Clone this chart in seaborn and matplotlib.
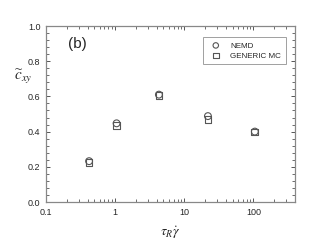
import pandas as pd
import matplotlib
matplotlib.use("Agg")
import matplotlib.pyplot as plt
import seaborn as sns
from matplotlib.ticker import AutoMinorLocator, LogLocator, FixedLocator, NullFormatter, FuncFormatter

# values
rate = [0.42, 1.05, 4.3, 22, 105]
nemd = [0.232, 0.447, 0.610, 0.488, 0.400]
generic_mc = [0.224, 0.436, 0.604, 0.470, 0.398]

sns.set_style("white")
plt.rcParams["font.family"] = ["Liberation Sans", "DejaVu Sans"]
plt.rcParams["mathtext.fontset"] = "stix"

df = pd.DataFrame({
    "rate": rate * 2,
    "c": nemd + generic_mc,
    "method": ["NEMD"] * len(rate) + ["GENERIC MC"] * len(rate),
})

fig = plt.figure(figsize=(3.10, 2.42), dpi=100)
ax = fig.add_axes([46 / 310, 40 / 242, 249 / 310, 176 / 242])

markers = {"NEMD": "o", "GENERIC MC": "s"}
for name, m in markers.items():
    sub = df[df["method"] == name]
    sns.scatterplot(data=sub, x="rate", y="c", marker=m, s=24,
                    facecolor="none", edgecolor="#555555", linewidth=0.8,
                    label=name, ax=ax)

ax.set_xscale("log")
ax.set_xlim(0.1, 400)
ax.set_ylim(0, 1.0)
ax.set_yticks([0.0, 0.2, 0.4, 0.6, 0.8, 1.0])
ax.yaxis.set_major_formatter(FuncFormatter(lambda v, p: f"{v:.1f}"))
ax.yaxis.set_minor_locator(AutoMinorLocator(5))
ax.xaxis.set_major_locator(FixedLocator([0.1, 1, 10, 100]))
ax.xaxis.set_major_formatter(FuncFormatter(lambda v, p: f"{v:g}"))
ax.xaxis.set_minor_locator(LogLocator(base=10, subs=range(2, 10)))
ax.xaxis.set_minor_formatter(NullFormatter())

ax.tick_params(which="both", direction="in", top=True, right=True,
               bottom=True, left=True,
               labelsize=6.5, color="#555555", pad=4)
ax.tick_params(which="major", length=3, width=0.7)
ax.tick_params(which="minor", length=2, width=0.6)
for sp in ax.spines.values():
    sp.set_color("#888888")
    sp.set_linewidth(0.9)

ax.set_xlabel(r"$\tau_R\dot{\gamma}$", fontsize=10, labelpad=6)
ax.set_ylabel(r"$\widetilde{c}_{xy}$", fontsize=11, rotation=0, labelpad=10)
ax.yaxis.set_label_coords(-0.09, 0.66)
ax.text(0.09, 0.90, "(b)", transform=ax.transAxes, fontsize=11,
        va="center", ha="left")

leg = ax.legend(loc="upper right", fontsize=5.8, frameon=True, fancybox=False,
                handletextpad=0.8, borderpad=0.6, labelspacing=0.3,
                bbox_to_anchor=(0.98, 0.96), markerscale=0.8)
leg.get_frame().set_edgecolor("#888888")
leg.get_frame().set_linewidth(0.7)

fig.savefig("out.png", dpi=100)
